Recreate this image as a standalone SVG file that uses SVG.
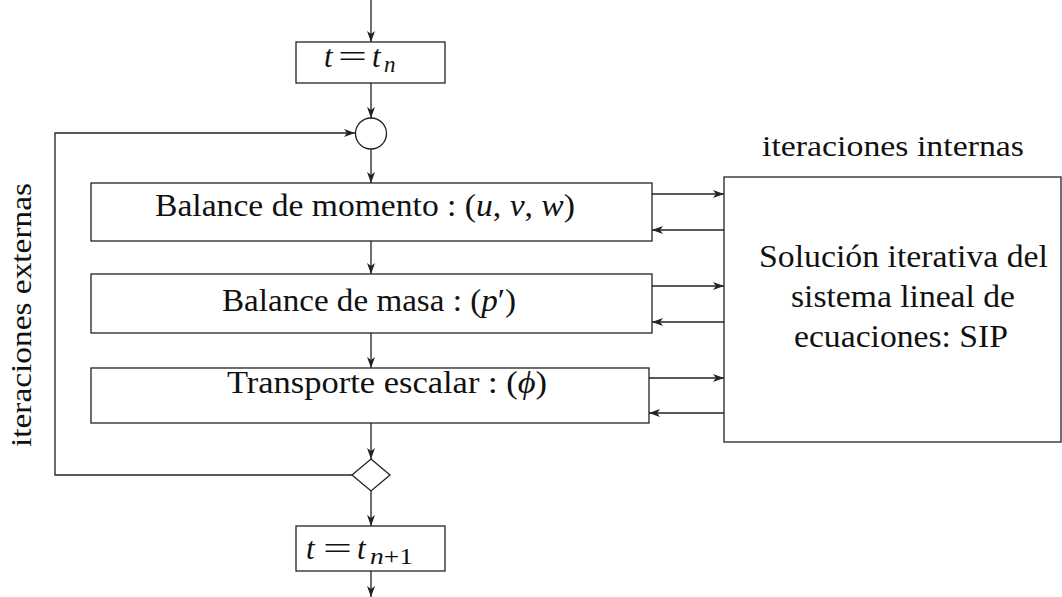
<svg xmlns="http://www.w3.org/2000/svg" width="1062" height="597" viewBox="0 0 1062 597">
<style>
.box{fill:#fff;stroke:#222;stroke-width:1.3}
.ln{fill:none;stroke:#222;stroke-width:1.3}
.arr{marker-end:url(#ah)}
text{font-family:"Liberation Serif","Times New Roman",serif;font-size:31px;fill:#111}
.lbl{font-size:29px}
.it{font-style:italic}
.sub{font-size:23px;font-style:italic}
.subr{font-size:23px}
</style>
<defs>
<marker id="ah" markerUnits="userSpaceOnUse" markerWidth="12" markerHeight="10" refX="11" refY="4.5" orient="auto" overflow="visible">
<path d="M0,0.5 L11,4.5 L0,8.5 L3,4.5 z" fill="#222"/>
</marker>
</defs>
<g id="connectors">
<line class="ln arr" x1="371" y1="0" x2="371" y2="42"/>
<line class="ln arr" x1="371" y1="83" x2="371" y2="118"/>
<line class="ln arr" x1="371" y1="149" x2="371" y2="183"/>
<polyline class="ln arr" points="352,475 55,475 55,133 355,133"/>
<line class="ln arr" x1="371" y1="241" x2="371" y2="274"/>
<line class="ln arr" x1="371" y1="333" x2="371" y2="368"/>
<line class="ln arr" x1="371" y1="423" x2="371" y2="459"/>
<line class="ln arr" x1="371" y1="491" x2="371" y2="526"/>
<line class="ln arr" x1="371" y1="571" x2="371" y2="597"/>
<line class="ln arr" x1="652" y1="194" x2="724" y2="194"/>
<line class="ln arr" x1="724" y1="230" x2="652" y2="230"/>
<line class="ln arr" x1="652" y1="286" x2="724" y2="286"/>
<line class="ln arr" x1="724" y1="322" x2="652" y2="322"/>
<line class="ln arr" x1="649" y1="378" x2="724" y2="378"/>
<line class="ln arr" x1="724" y1="413" x2="649" y2="413"/>
</g>
<g id="start">
<rect class="box" x="296" y="42" width="149" height="41"/>
<text class="it" x="324" y="67">t</text>
<text x="338" y="67" textLength="29" lengthAdjust="spacingAndGlyphs">=</text>
<text class="it" x="372" y="67">t</text>
<text class="sub" x="384" y="72">n</text>
</g>
<g id="join">
<circle class="box" cx="371" cy="133.5" r="15.5"/>
</g>
<g id="momento">
<rect class="box" x="91" y="183" width="561" height="58"/>
<text x="155" y="216" textLength="420" lengthAdjust="spacingAndGlyphs">Balance de momento : (<tspan class="it">u</tspan>, <tspan class="it">v</tspan>, <tspan class="it">w</tspan>)</text>
</g>
<g id="masa">
<rect class="box" x="91" y="274" width="561" height="59"/>
<text x="222" y="311" textLength="294" lengthAdjust="spacingAndGlyphs">Balance de masa : (<tspan class="it">p</tspan>′)</text>
</g>
<g id="escalar">
<rect class="box" x="91" y="368" width="558" height="55"/>
<text x="227" y="393" textLength="320" lengthAdjust="spacingAndGlyphs">Transporte escalar : (<tspan class="it">ϕ</tspan>)</text>
</g>
<g id="decision">
<polygon class="box" points="371,459 390,475 371,491 352,475"/>
</g>
<g id="end">
<rect class="box" x="296" y="526" width="149" height="45"/>
<text class="it" x="306" y="559">t</text>
<text x="323" y="559" textLength="29" lengthAdjust="spacingAndGlyphs">=</text>
<text class="it" x="357" y="559">t</text>
<text x="370" y="564" textLength="43" lengthAdjust="spacingAndGlyphs"><tspan class="sub">n</tspan><tspan class="subr">+1</tspan></text>
</g>
<g id="solver">
<rect class="box" x="724" y="177" width="337" height="265"/>
<text class="lbl" x="762" y="156" textLength="262" lengthAdjust="spacingAndGlyphs">iteraciones internas</text>
<text x="759" y="267" textLength="289" lengthAdjust="spacingAndGlyphs">Solución iterativa del</text>
<text x="791" y="307" textLength="224" lengthAdjust="spacingAndGlyphs">sistema lineal de</text>
<text x="794" y="347" textLength="214" lengthAdjust="spacingAndGlyphs">ecuaciones: SIP</text>
</g>
<g id="externas">
<text class="lbl" transform="translate(31,447) rotate(-90)" x="0" y="0" textLength="264" lengthAdjust="spacingAndGlyphs">iteraciones externas</text>
</g>
</svg>
